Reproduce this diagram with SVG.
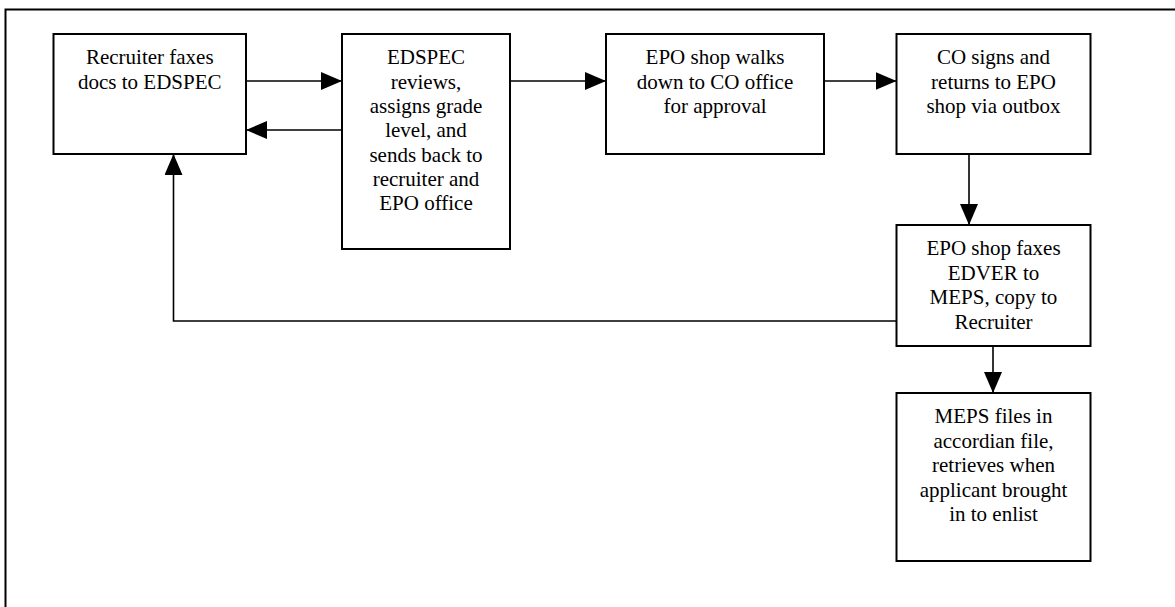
<svg xmlns="http://www.w3.org/2000/svg" width="1175" height="607" viewBox="0 0 1175 607">
<style>
.box{fill:#fff;stroke:#000;stroke-width:2}
.t{font-family:'Liberation Serif',Tinos,'Times New Roman',Times,'Noto Serif','DejaVu Serif',FreeSerif,serif;font-size:21px;fill:#000;text-anchor:middle}
.c{fill:none;stroke:#000;stroke-width:1.6}
</style>
<defs>
<marker id="ah" viewBox="0 0 21 18" refX="21" refY="9" markerWidth="21" markerHeight="18" markerUnits="userSpaceOnUse" orient="auto">
<path d="M0,0 L21,9 L0,18 Z" fill="#000"/>
</marker>
</defs>
<rect width="1175" height="607" fill="#fff"/>
<rect x="5.5" y="9.5" width="1180" height="610" fill="none" stroke="#000" stroke-width="2"/>
<g id="connectors">
<line class="c" x1="246" y1="81" x2="342" y2="81" marker-end="url(#ah)"/>
<line class="c" x1="342" y1="130" x2="246" y2="130" marker-end="url(#ah)"/>
<line class="c" x1="510" y1="81" x2="606" y2="81" marker-end="url(#ah)"/>
<line class="c" x1="824" y1="81" x2="896.5" y2="81" marker-end="url(#ah)"/>
<line class="c" x1="969" y1="154" x2="969" y2="225" marker-end="url(#ah)"/>
<line class="c" x1="993" y1="346" x2="993" y2="393" marker-end="url(#ah)"/>
<polyline class="c" points="896.5,321 173.5,321 173.5,154" marker-end="url(#ah)"/>
</g>
<g id="n1">
<rect class="box" x="53.5" y="34" width="192.5" height="120"/>
<text class="t" x="149.75" y="64.3">Recruiter faxes</text>
<text class="t" x="149.75" y="88.8">docs to EDSPEC</text>
</g>
<g id="n2">
<rect class="box" x="342" y="34" width="168" height="215"/>
<text class="t" x="426" y="64.3">EDSPEC</text>
<text class="t" x="426" y="88.6">reviews,</text>
<text class="t" x="426" y="112.9">assigns grade</text>
<text class="t" x="426" y="137.2">level, and</text>
<text class="t" x="426" y="161.5">sends back to</text>
<text class="t" x="426" y="185.8">recruiter and</text>
<text class="t" x="426" y="210.1">EPO office</text>
</g>
<g id="n3">
<rect class="box" x="606" y="34" width="218" height="120"/>
<text class="t" x="715" y="64.3">EPO shop walks</text>
<text class="t" x="715" y="88.6">down to CO office</text>
<text class="t" x="715" y="112.9">for approval</text>
</g>
<g id="n4">
<rect class="box" x="896.5" y="34" width="194" height="120"/>
<text class="t" x="993.5" y="64.3">CO signs and</text>
<text class="t" x="993.5" y="88.6">returns to EPO</text>
<text class="t" x="993.5" y="112.9">shop via outbox</text>
</g>
<g id="n5">
<rect class="box" x="896.5" y="225" width="194" height="121"/>
<text class="t" x="993.5" y="255">EPO shop faxes</text>
<text class="t" x="993.5" y="279.5">EDVER to</text>
<text class="t" x="993.5" y="304">MEPS, copy to</text>
<text class="t" x="993.5" y="328.5">Recruiter</text>
</g>
<g id="n6">
<rect class="box" x="896.5" y="393" width="194" height="168"/>
<text class="t" x="993.5" y="423">MEPS files in</text>
<text class="t" x="993.5" y="447.6">accordian file,</text>
<text class="t" x="993.5" y="472.2">retrieves when</text>
<text class="t" x="993.5" y="496.8">applicant brought</text>
<text class="t" x="993.5" y="521.4">in to enlist</text>
</g>
</svg>
